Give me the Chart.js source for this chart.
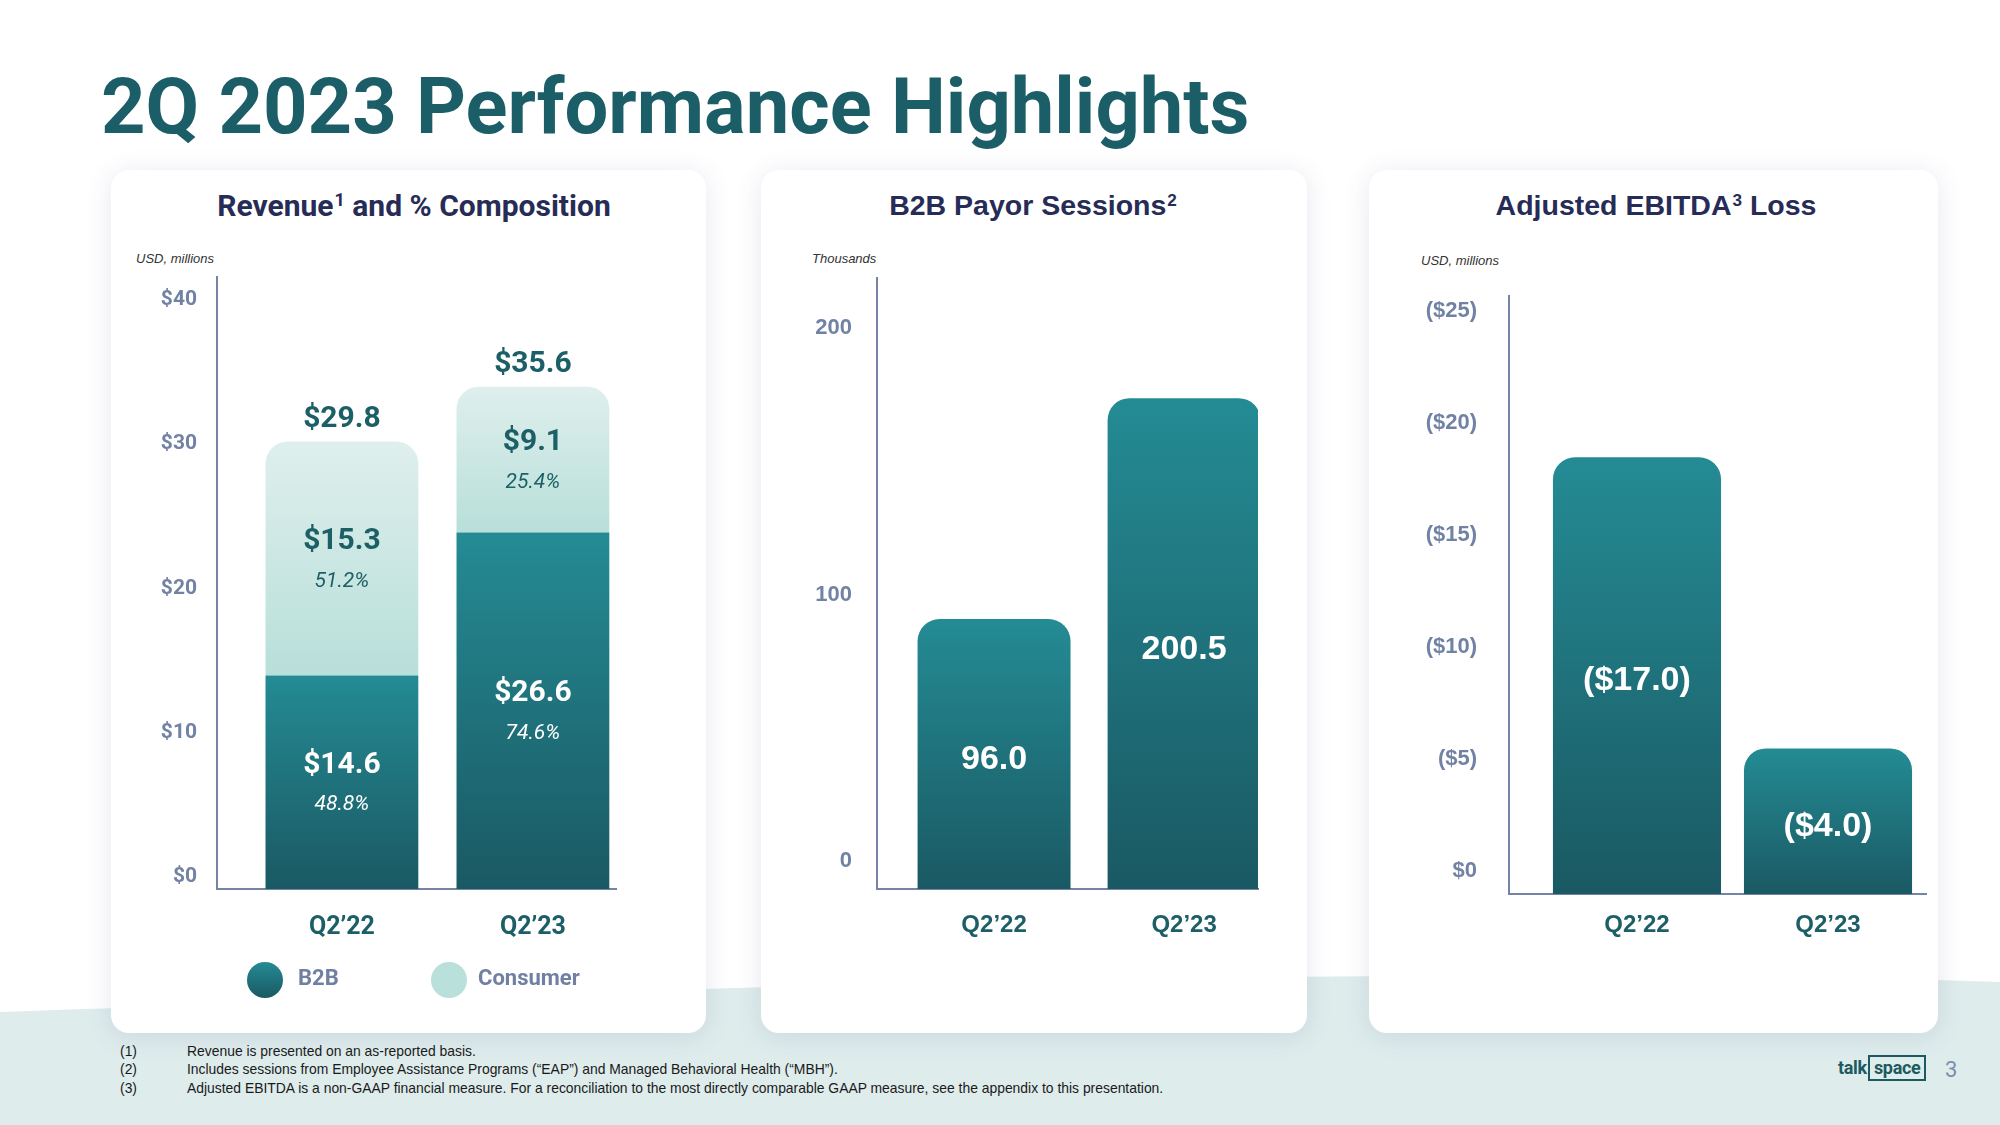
<!DOCTYPE html>
<html>
<head>
<meta charset="utf-8">
<script src="https://cdn.jsdelivr.net/npm/chart.js@4.4.1/dist/chart.umd.min.js"></script>
<style>
  body { margin: 0; background: #fff; }
  #page { position: relative; width: 2000px; height: 1125px; overflow: hidden; background: #fff; font-family: Roboto, sans-serif; }
  #wave { position: absolute; left: 0; top: 0; }
  .t { position: absolute; line-height: 1; white-space: nowrap; margin: 0; }
  #title { left: 101px; top: 68px; font-size: 77.7px; font-weight: 700; color: #1c5e68; }
  .card { position: absolute; top: 170px; height: 863px; background: #fff; border-radius: 18px; box-shadow: 0 3px 26px rgba(70, 80, 140, 0.13); }
  .ctitle { top: 191px; width: 600px; text-align: center; font-weight: 700; color: #262c56; }
  .ctitle sup { font-size: 0.6em; vertical-align: 0; position: relative; top: -0.55em; margin-left: 1px; }
  .unit { font: italic 13px "Liberation Sans", Arial, sans-serif; color: #333; top: 251px; }
  canvas { position: absolute; }
  .dot { position: absolute; width: 36px; height: 36px; border-radius: 50%; top: 962px; }
  .leg { top: 967px; font-size: 22px; font-weight: 700; color: #7080a3; }
  .fn { font: 13.9px "Liberation Sans", Arial, sans-serif; color: #1a1a1a; }
  #logo { left: 1838px; top: 1059px; font-size: 18px; font-weight: 700; color: #1c5a62; letter-spacing: -0.3px; }
  #logo span { border: 2px solid #1c5a62; padding: 0 3px 1px 4px; margin-left: 1px; }
  #pnum { left: 1945px; top: 1059px; font-size: 22px; color: #7d8db0; }
</style>
</head>
<body>
<div id="page">
  <svg id="wave" width="2000" height="1125">
    <path d="M0 1012 C 600 992, 1350 962, 2000 982 L 2000 1125 L 0 1125 Z" fill="#deecec"/>
  </svg>

  <div id="title" class="t">2Q 2023 Performance Highlights</div>

  <div class="card" style="left:111px; width:595px"></div>
  <div class="card" style="left:761px; width:546px"></div>
  <div class="card" style="left:1369px; width:569px"></div>

  <div class="t ctitle" style="left:114px; font-size:30px">Revenue<sup>1</sup> and % Composition</div>
  <div class="t ctitle" style="left:733px; font-size:28.5px; font-family:'Liberation Sans', Arial, sans-serif">B2B Payor Sessions<sup>2</sup></div>
  <div class="t ctitle" style="left:1356px; font-size:28.5px; font-family:'Liberation Sans', Arial, sans-serif">Adjusted EBITDA<sup>3</sup> Loss</div>

  <div class="t unit" style="left:136px">USD, millions</div>
  <div class="t unit" style="left:812px">Thousands</div>
  <div class="t unit" style="left:1421px; top:253px">USD, millions</div>

  <canvas id="revenueChart" width="595" height="740" style="left:111px; top:230px"></canvas>
  <canvas id="sessionsChart" width="546" height="740" style="left:761px; top:230px"></canvas>
  <canvas id="ebitdaChart" width="569" height="740" style="left:1369px; top:230px"></canvas>

  <div class="dot" style="left:247px; background:linear-gradient(#248b94, #1a5963)"></div>
  <div class="t leg" style="left:298px">B2B</div>
  <div class="dot" style="left:431px; background:#b9e0da"></div>
  <div class="t leg" style="left:478px">Consumer</div>

  <div class="t fn" style="left:120px; top:1043px">(1)</div>
  <div class="t fn" style="left:187px; top:1043px">Revenue is presented on an as-reported basis.</div>
  <div class="t fn" style="left:120px; top:1061px">(2)</div>
  <div class="t fn" style="left:187px; top:1061px">Includes sessions from Employee Assistance Programs (“EAP”) and Managed Behavioral Health (“MBH”).</div>
  <div class="t fn" style="left:120px; top:1080px">(3)</div>
  <div class="t fn" style="left:187px; top:1080px">Adjusted EBITDA is a non-GAAP financial measure. For a reconciliation to the most directly comparable GAAP measure, see the appendix to this presentation.</div>

  <div id="logo" class="t">talk<span>space</span></div>
  <div id="pnum" class="t">3</div>
</div>

<script>
const categories = ['Q2’22', 'Q2’23']

// Revenue, USD millions (bar heights as drawn on the slide's axis)
const revB2B = [14.8, 24.7]
const revConsumer = [16.2, 10.1]
const revB2BText = ['$14.6', '$26.6']
const revB2BPct = ['48.8%', '74.6%']
const revConsumerText = ['$15.3', '$9.1']
const revConsumerPct = ['51.2%', '25.4%']
const revTotalText = ['$29.8', '$35.6']
const revTicks = [0, 10, 20, 30, 40]
const revTickLabels = ['$0', '$10', '$20', '$30', '$40']

// B2B payor sessions, thousands
const sessions = [101.3, 184.2]
const sessionsText = ['96.0', '200.5']
const sessionsTicks = [0, 100, 200]
const sessionsTickLabels = ['0', '100', '200']

// Adjusted EBITDA loss, USD millions
const ebitda = [19.5, 6.5]
const ebitdaText = ['($17.0)', '($4.0)']
const ebitdaTicks = [0, 5, 10, 15, 20, 25]
const ebitdaTickLabels = ['$0', '($5)', '($10)', '($15)', '($20)', '($25)']

const tealTop = '#248b94'
const tealBottom = '#1a5963'
const mintTop = '#dfefed'
const mintBottom = '#b8dfd9'
const axisColor = '#7584a5'
const tickColor = '#7282a5'
const darkTeal = '#1d5f66'
const arial = "'Liberation Sans', Arial, sans-serif"

// vertical gradient that runs from the top of each bar to its base
function barGradient(top, bottom, values, bases) {
    return (c) => {
        const chart = c.chart
        const y = chart.scales.y
        if (c.type !== 'data' || !chart.chartArea || !y) return bottom
        const base = bases ? bases[c.dataIndex] : 0
        const y0 = y.getPixelForValue(base)
        const y1 = y.getPixelForValue(base + values[c.dataIndex])
        if (!isFinite(y0) || !isFinite(y1) || y0 === y1) return bottom
        const g = chart.ctx.createLinearGradient(0, y1, 0, y0)
        g.addColorStop(0, top)
        g.addColorStop(1, bottom)
        return g
    }
}

function xScale(min, max, font, pad) {
    return {
        type: 'linear',
        min: min,
        max: max,
        offset: false,
        stacked: true,
        grid: { display: false, drawTicks: false },
        border: { display: true, color: axisColor, width: 2 },
        afterBuildTicks: (s) => { s.ticks = categories.map((c, i) => ({ value: i + 1 })) },
        afterFit: (s) => { s.height = 60 },
        ticks: {
            callback: (v) => categories[v - 1],
            color: darkTeal,
            font: font,
            padding: pad,
            maxRotation: 0,
            autoSkip: false
        }
    }
}

function yScale(max, ticks, labels, offset, width, pad, font) {
    return {
        min: 0,
        max: max,
        stacked: true,
        grid: { display: false, drawTicks: false },
        border: { display: true, color: axisColor, width: 2 },
        afterBuildTicks: (s) => { s.ticks = ticks.map(v => ({ value: v })) },
        afterFit: (s) => { s.width = width },
        ticks: {
            callback: (v, i) => labels[i],
            color: tickColor,
            font: font,
            padding: pad,
            labelOffset: offset
        }
    }
}

// writes the numbers inside the bars and the totals above them
const barText = {
    id: 'barText',
    afterDatasetsDraw(chart, args, opts) {
        const ctx = chart.ctx
        const dy = opts.dy || 0
        ctx.save()
        ctx.textAlign = 'center'
        ctx.textBaseline = 'middle'
        chart.data.datasets.forEach((ds, di) => {
            const meta = chart.getDatasetMeta(di)
            meta.data.forEach((bar, i) => {
                if (!ds.valueText) return
                const mid = (bar.y + bar.base) / 2 + dy
                const gap = ds.subText ? opts.gap : 0
                ctx.fillStyle = ds.textColor
                ctx.font = opts.valueFont
                ctx.fillText(ds.valueText[i], bar.x, mid - gap)
                if (ds.subText) {
                    ctx.font = opts.subFont
                    ctx.fillText(ds.subText[i], bar.x, mid + gap)
                }
            })
        })
        if (opts.totals) {
            const last = chart.getDatasetMeta(chart.data.datasets.length - 1)
            ctx.fillStyle = darkTeal
            ctx.font = opts.totalFont
            last.data.forEach((bar, i) => {
                ctx.fillText(opts.totals[i], bar.x, bar.y - opts.totalGap + dy)
            })
        }
        ctx.restore()
    }
}

Chart.defaults.animation = false
Chart.defaults.plugins.legend.display = false
Chart.defaults.plugins.tooltip.enabled = false

new Chart(document.getElementById('revenueChart'), {
    type: 'bar',
    data: {
        datasets: [{
            label: 'B2B',
            data: revB2B.map((v, i) => ({ x: i + 1, y: v })),
            backgroundColor: barGradient(tealTop, tealBottom, revB2B),
            borderRadius: 0,
            barPercentage: 0.8,
            categoryPercentage: 1,
            valueText: revB2BText,
            subText: revB2BPct,
            textColor: '#ffffff'
        }, {
            label: 'Consumer',
            data: revConsumer.map((v, i) => ({ x: i + 1, y: v })),
            backgroundColor: barGradient(mintTop, mintBottom, revConsumer, revB2B),
            borderRadius: { topLeft: 22, topRight: 22, bottomLeft: 0, bottomRight: 0 },
            borderSkipped: 'start',
            barPercentage: 0.8,
            categoryPercentage: 1,
            valueText: revConsumerText,
            subText: revConsumerPct,
            textColor: darkTeal
        }]
    },
    options: {
        responsive: false,
        layout: { padding: { left: 0, top: 47, right: 90, bottom: 21 } },
        scales: {
            x: xScale(0.346, 2.435, { family: 'Roboto', size: 25, weight: 'bold' }, 24),
            y: yScale(42.4, revTicks, revTickLabels, -12, 106, 20, { family: 'Roboto', size: 21, weight: 'bold' })
        },
        plugins: {
            barText: {
                gap: 20,
                dy: 3,
                valueFont: 'bold 30px Roboto',
                subFont: 'italic 21px Roboto',
                totals: revTotalText,
                totalGap: 25,
                totalFont: 'bold 30px Roboto'
            }
        }
    },
    plugins: [barText]
})

new Chart(document.getElementById('sessionsChart'), {
    type: 'bar',
    data: {
        datasets: [{
            label: 'B2B Payor Sessions',
            data: sessions.map((v, i) => ({ x: i + 1, y: v })),
            backgroundColor: barGradient(tealTop, tealBottom, sessions),
            borderRadius: { topLeft: 22, topRight: 22, bottomLeft: 0, bottomRight: 0 },
            borderSkipped: 'start',
            barPercentage: 0.805,
            categoryPercentage: 1,
            valueText: sessionsText,
            textColor: '#ffffff'
        }]
    },
    options: {
        responsive: false,
        layout: { padding: { left: 0, top: 48, right: 49, bottom: 21 } },
        scales: {
            x: xScale(0.384, 2.389, { family: arial, size: 24, weight: 'bold' }, 22),
            y: yScale(229.3, sessionsTicks, sessionsTickLabels, -28, 116, 25, { family: arial, size: 22, weight: 'bold' })
        },
        plugins: {
            barText: { gap: 0, dy: 6, valueFont: "bold 34px 'Liberation Sans', Arial" }
        }
    },
    plugins: [barText]
})

new Chart(document.getElementById('ebitdaChart'), {
    type: 'bar',
    data: {
        datasets: [{
            label: 'Adjusted EBITDA Loss',
            data: ebitda.map((v, i) => ({ x: i + 1, y: v })),
            backgroundColor: barGradient(tealTop, tealBottom, ebitda),
            borderRadius: { topLeft: 22, topRight: 22, bottomLeft: 0, bottomRight: 0 },
            borderSkipped: 'start',
            barPercentage: 0.88,
            categoryPercentage: 1,
            valueText: ebitdaText,
            textColor: '#ffffff'
        }]
    },
    options: {
        responsive: false,
        layout: { padding: { left: 0, top: 66, right: 12, bottom: 16 } },
        scales: {
            x: xScale(0.330, 2.513, { family: arial, size: 24, weight: 'bold' }, 17),
            y: yScale(26.7, ebitdaTicks, ebitdaTickLabels, -23, 140, 32, { family: arial, size: 22, weight: 'bold' })
        },
        plugins: {
            barText: { gap: 0, dy: 5, valueFont: "bold 34px 'Liberation Sans', Arial" }
        }
    },
    plugins: [barText]
})
</script>
</body>
</html>
